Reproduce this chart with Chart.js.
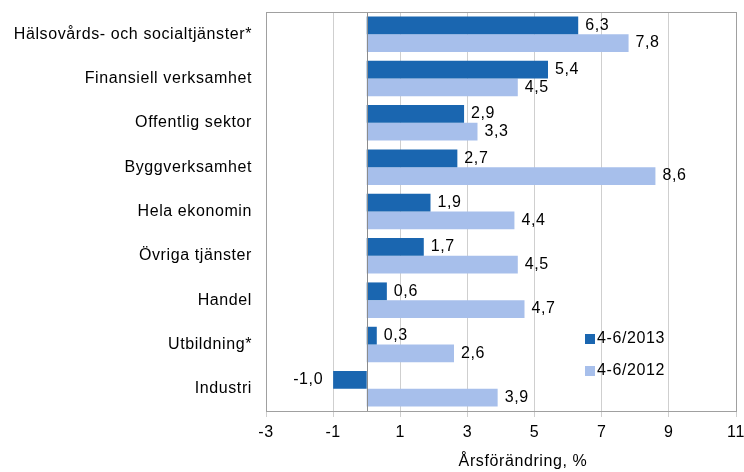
<!DOCTYPE html>
<html>
<head>
<meta charset="utf-8">
<script src="https://cdn.jsdelivr.net/npm/chart.js@4"></script>
<style>
  html, body { margin: 0; padding: 0; background: #fff; }
  canvas { display: block; }
</style>
</head>
<body>
<canvas id="chart" width="744" height="472"></canvas>
<script>
const categories = [
  'Hälsovårds- och socialtjänster*',
  'Finansiell verksamhet',
  'Offentlig sektor',
  'Byggverksamhet',
  'Hela ekonomin',
  'Övriga tjänster',
  'Handel',
  'Utbildning*',
  'Industri'
];
const values2013 = [6.3, 5.4, 2.9, 2.7, 1.9, 1.7, 0.6, 0.3, -1.0];
const values2012 = [7.8, 4.5, 3.3, 8.6, 4.4, 4.5, 4.7, 2.6, 3.9];
const seriesNames = ['4-6/2013', '4-6/2012'];
const xTicks = [-3, -1, 1, 3, 5, 7, 9, 11];
const axisTitle = 'Årsförändring, %';

const FONT = '"Liberation Sans", Arial, sans-serif';
const fmt = v => v.toFixed(1).replace('.', ',');

// labels, zero line, frame, legend and axis title
const extras = {
  id: 'extras',
  beforeDraw(chart) {
    chart.ctx.letterSpacing = '0.6px';
  },
  afterDatasetsDraw(chart) {
    const ctx = chart.ctx;
    const area = chart.chartArea;
    const x = chart.scales.x;
    ctx.save();

    // zero line
    const x0 = Math.round(x.getPixelForValue(0)) + 0.5;
    ctx.strokeStyle = '#8c8c8c';
    ctx.lineWidth = 1;
    ctx.beginPath();
    ctx.moveTo(x0, area.top);
    ctx.lineTo(x0, area.bottom);
    ctx.stroke();

    // frame
    ctx.strokeStyle = '#a0a0a0';
    ctx.strokeRect(Math.round(area.left) + 0.5, Math.round(area.top) + 0.5,
      Math.round(area.right - area.left), Math.round(area.bottom - area.top));

    // value labels
    ctx.font = '16px ' + FONT;
    ctx.fillStyle = '#000';
    ctx.textBaseline = 'middle';
    chart.data.datasets.forEach((ds, i) => {
      chart.getDatasetMeta(i).data.forEach((bar, j) => {
        const v = ds.data[j];
        if (v < 0) {
          ctx.textAlign = 'right';
          ctx.fillText(fmt(v), bar.x - 10, bar.y);
        } else {
          ctx.textAlign = 'left';
          ctx.fillText(fmt(v), bar.x + 7, bar.y);
        }
      });
    });

    // legend
    const lx = 585, ly = [339, 371];
    chart.data.datasets.forEach((ds, i) => {
      ctx.fillStyle = ds.backgroundColor;
      ctx.fillRect(lx, ly[i] - 5, 10, 10);
      ctx.fillStyle = '#000';
      ctx.textAlign = 'left';
      ctx.fillText(ds.label, lx + 12, ly[i]);
    });

    // axis title
    ctx.textAlign = 'center';
    ctx.fillText(axisTitle, 523, 462);
    ctx.restore();
  }
};

new Chart(document.getElementById('chart'), {
  type: 'bar',
  data: {
    labels: categories,
    datasets: [
      { label: seriesNames[0], data: values2013, backgroundColor: '#1a66b0' },
      { label: seriesNames[1], data: values2012, backgroundColor: '#a7bfeb' }
    ]
  },
  options: {
    indexAxis: 'y',
    responsive: false,
    animation: false,
    categoryPercentage: 0.8,
    barPercentage: 1,
    layout: { padding: { top: 12, right: 8, left: 0, bottom: 0 } },
    plugins: {
      legend: { display: false },
      tooltip: { enabled: false }
    },
    scales: {
      x: {
        min: -3,
        max: 11,
        afterBuildTicks: s => { s.ticks = xTicks.map(v => ({ value: v })); },
        afterFit: s => { s.height = 61; s.paddingLeft = 0; s.paddingRight = 0; },
        grid: { color: '#cfcfcf', tickLength: 6 },
        border: { display: false },
        ticks: { color: '#000', font: { size: 16, family: FONT }, padding: 6 }
      },
      y: {
        afterFit: s => { s.width = 266; s.paddingTop = 0; s.paddingBottom = 0; },
        grid: { display: false },
        border: { display: false },
        ticks: { color: '#000', font: { size: 16, family: FONT }, padding: 6 }
      }
    }
  },
  plugins: [extras]
});
</script>
</body>
</html>
